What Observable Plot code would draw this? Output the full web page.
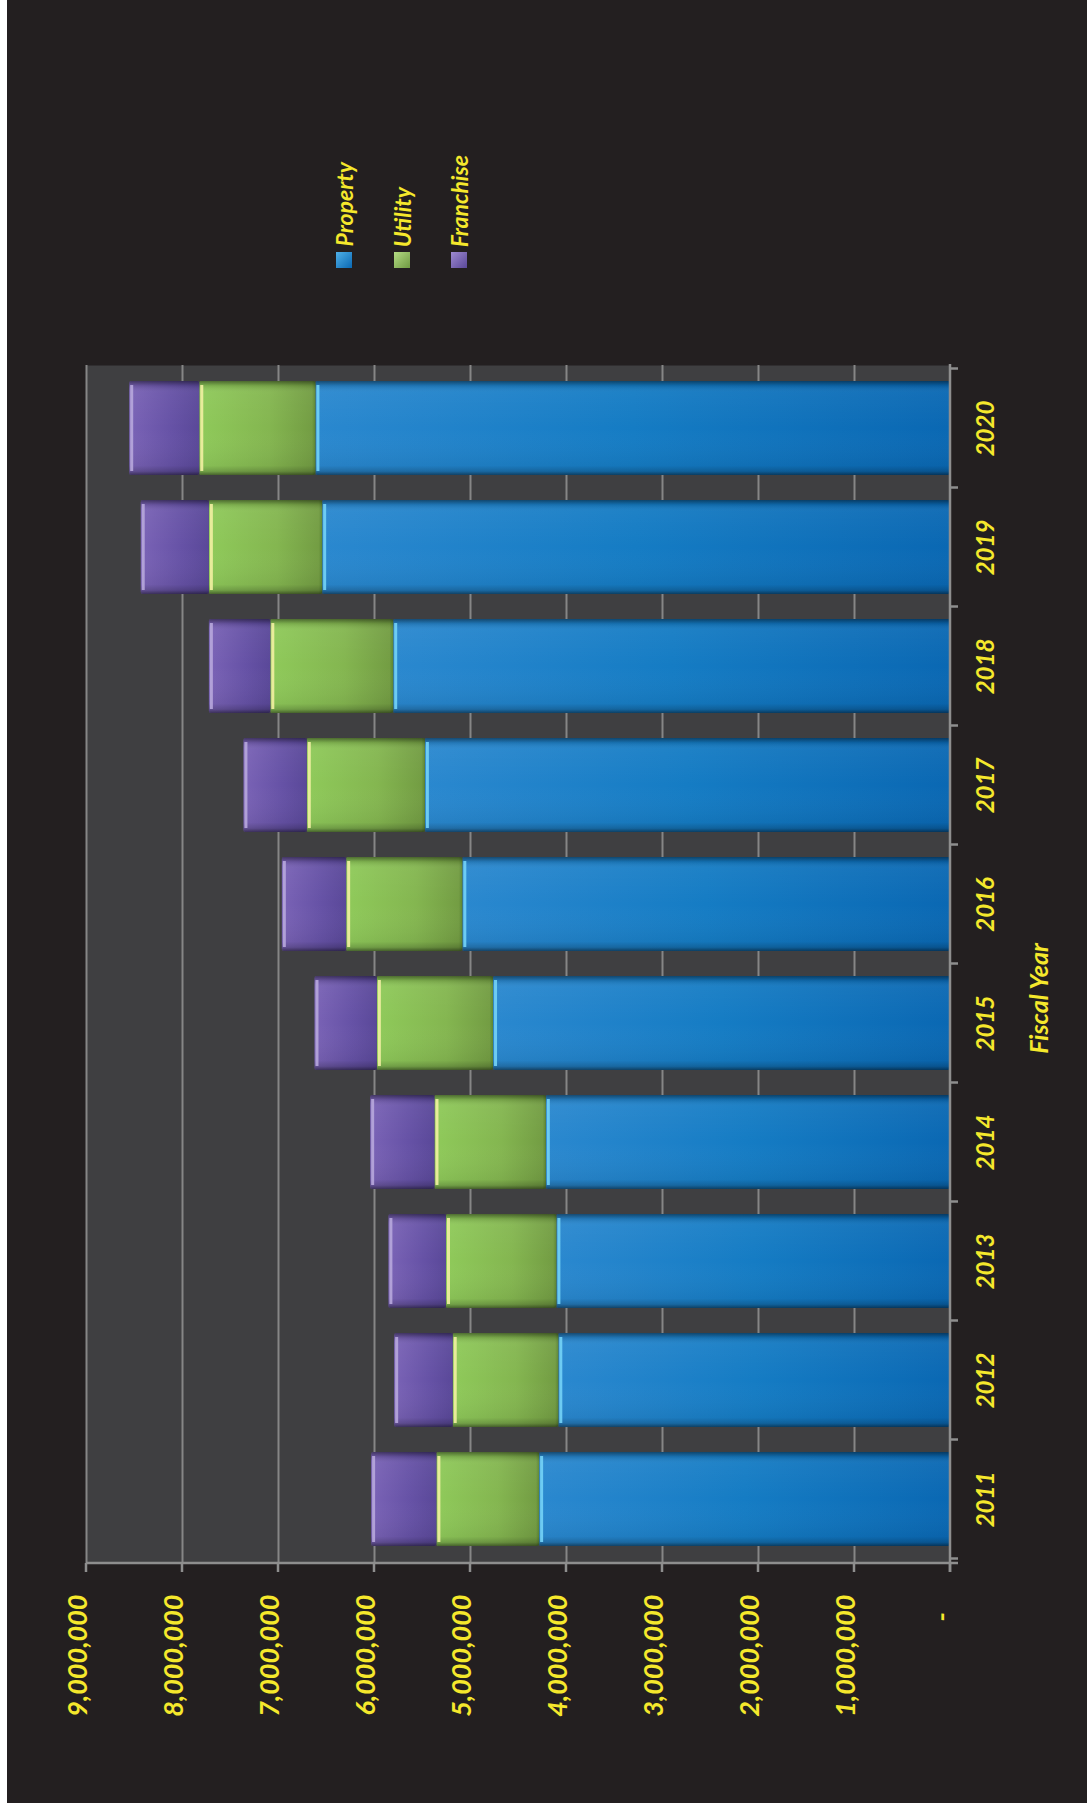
<!DOCTYPE html>
<html>
<head>
<meta charset="utf-8">
<script src="https://cdn.jsdelivr.net/npm/d3@7"></script>
<script src="https://cdn.jsdelivr.net/npm/@observablehq/plot@0.6"></script>
<style>
html, body { margin: 0; padding: 0; background: #231f20; }
#page { position: relative; width: 1087px; height: 1803px; overflow: hidden; background: #231f20; }
#strip { position: absolute; left: 0; top: 0; width: 7px; height: 1803px; background: #ffffff; z-index: 2; }
#chart { position: absolute; left: 0; top: 0; }
#legend { position: absolute; left: 329px; top: 110px; height: 158px; display: flex; align-items: flex-end; gap: 27.5px; z-index: 3; }
.item { width: 30px; display: flex; flex-direction: column; align-items: center; }
.item span { writing-mode: vertical-rl; transform: rotate(180deg); font: italic bold 23px Lato, "Open Sans", sans-serif; color: #f5e82c; line-height: 30px; white-space: nowrap; }
.sw { width: 16px; height: 16px; margin-top: 5px; }
g[aria-label="value labels"] text { letter-spacing: -1.1px; }
</style>
</head>
<body>
<div id="page">
  <div id="strip"></div>
  <div id="chart"></div>
  <div id="legend"></div>
</div>
<script>
// ---- data ----
const years = ["2011", "2012", "2013", "2014", "2015", "2016", "2017", "2018", "2019", "2020"];
const property  = [4280000, 4080000, 4100000, 4210000, 4760000, 5080000, 5470000, 5800000, 6540000, 6610000];
const utility   = [1070000, 1100000, 1150000, 1160000, 1210000, 1210000, 1230000, 1280000, 1180000, 1210000];
const franchise = [ 680000,  610000,  600000,  670000,  650000,  670000,  660000,  640000,  710000,  730000];
const seriesNames = ["Property", "Utility", "Franchise"];
const valueTicks = [0, 1000000, 2000000, 3000000, 4000000, 5000000, 6000000, 7000000, 8000000, 9000000];
const valueTickLabels = ["-\u00a0\u00a0\u00a0", "1,000,000", "2,000,000", "3,000,000", "4,000,000", "5,000,000", "6,000,000", "7,000,000", "8,000,000", "9,000,000"];
const axisTitle = "Fiscal Year";

// ---- styles ----
const yellow = "#f5e82c";
const seriesStyle = {
  Property:  {id: "gProperty",  stops: [[0, "#2a88cf"], [0.5, "#157cc4"], [1, "#0a68b3"]], hi: "#74d3f6", sw: "linear-gradient(135deg,#4fb0e8,#0a68b3)"},
  Utility:   {id: "gUtility",   stops: [[0, "#8fca5a"], [0.6, "#84b650"], [0.97, "#739d43"], [1, "#5c8533"]], hi: "#f2f0a2", sw: "linear-gradient(135deg,#b4dc84,#6f9a42)"},
  Franchise: {id: "gFranchise", stops: [[0, "#7a63b6"], [0.6, "#6652a6"], [1, "#5a4899"]], hi: "#b7a7dc", sw: "linear-gradient(135deg,#9e8ad0,#5a4899)"}
};

// stacked rows (cumulative sums of the series values)
const seriesValues = [property, utility, franchise];
const rows = [];
years.forEach((yr, i) => {
  let acc = 0;
  seriesValues.forEach((vals, s) => {
    rows.push({year: yr, series: seriesNames[s], x1: acc, x2: acc + vals[i]});
    acc += vals[i];
  });
});

// gradient definitions
const defs = () => {
  const g = d3.create("svg:g");
  const d = g.append("defs");
  const lin = (id, stops, vertical) => {
    const lg = d.append("linearGradient").attr("id", id)
      .attr("x1", 0).attr("y1", 0).attr("x2", vertical ? 0 : 1).attr("y2", vertical ? 1 : 0);
    stops.forEach(([o, c, op]) => lg.append("stop").attr("offset", o).attr("stop-color", c).attr("stop-opacity", op ?? 1));
  };
  for (const s of seriesNames) lin(seriesStyle[s].id, seriesStyle[s].stops, false);
  lin("vshade", [[0, "#000", 0.45], [0.05, "#000", 0.12], [0.12, "#fff", 0.04], [0.5, "#fff", 0], [0.9, "#000", 0.05], [0.96, "#000", 0.2], [1, "#000", 0.5]], true);
  return g.node();
};

// axis lines and tick stubs
const axes = (index, scales, values, dims) => {
  const {x, y} = scales;
  const {height, marginTop, marginBottom, marginLeft} = dims;
  const bottom = height - marginBottom, top = marginTop, left = marginLeft;
  const right = x(0);
  const bw = y.bandwidth();
  const step = Math.abs(y(years[1]) - y(years[0]));
  const gap = (step - bw) / 2;
  const edges = years.map(v => y(v) - gap).concat([y(years[0]) + bw + gap]);
  const g = d3.create("svg:g").attr("stroke", "#8e8e8e").attr("stroke-width", 2.5).attr("fill", "none");
  g.append("line").attr("x1", left).attr("x2", right + 8).attr("y1", bottom).attr("y2", bottom);
  g.append("line").attr("x1", right).attr("x2", right).attr("y1", top - 1).attr("y2", bottom + 9);
  for (const v of valueTicks) g.append("line").attr("x1", x(v)).attr("x2", x(v)).attr("y1", bottom).attr("y2", bottom + 9);
  for (const e of edges) g.append("line").attr("x1", right).attr("x2", right + 8).attr("y1", e).attr("y2", e);
  return g.node();
};

const barMarks = [];
for (const s of seriesNames) {
  const data = rows.filter(r => r.series === s);
  barMarks.push(Plot.barX(data, {x1: "x1", x2: "x2", y: "year", fill: "url(#" + seriesStyle[s].id + ")", rx: 2}));
  barMarks.push(Plot.barX(data, {x1: "x1", x2: "x2", y: "year", fill: "url(#vshade)", rx: 2}));
  barMarks.push(Plot.tickX(data, {x: "x2", y: "year", stroke: seriesStyle[s].hi, strokeWidth: 3, dx: 2, insetTop: 4, insetBottom: 4, strokeOpacity: 0.9}));
}

const textStyle = {fill: yellow, fontWeight: "bold", fontStyle: "italic", fontFamily: "Lato"};

const chart = Plot.plot({
  width: 1087,
  height: 1803,
  marginLeft: 86,
  marginRight: 137,
  marginTop: 365,
  marginBottom: 240,
  style: {background: "transparent", overflow: "visible"},
  x: {domain: [0, 9000000], reverse: true, axis: null},
  y: {domain: years.slice().reverse(), paddingInner: 0.21, paddingOuter: 0.105, axis: null},
  marks: [
    defs,
    Plot.frame({fill: "#3f3f41", stroke: null}),
    Plot.ruleX(valueTicks.slice(1), {x: d => d, stroke: "#868686", strokeWidth: 2}),
    ...barMarks,
    axes,
    Plot.text(valueTicks, {
      x: d => d, frameAnchor: "bottom", dy: 31, rotate: -90, textAnchor: "end",
      text: (d, i) => valueTickLabels[i], fontSize: 27, ariaLabel: "value labels", ...textStyle
    }),
    Plot.text(years, {
      y: d => d, frameAnchor: "right", dx: 36, rotate: -90, textAnchor: "middle",
      text: d => d, fontSize: 24, ...textStyle
    }),
    Plot.text([axisTitle], {
      frameAnchor: "right", dx: 89, dy: 34, rotate: -90, textAnchor: "middle",
      text: d => d, fontSize: 25, ...textStyle
    })
  ]
});
document.getElementById("chart").appendChild(chart);

// legend
const legend = d3.select("#legend");
for (const s of seriesNames) {
  const it = legend.append("div").attr("class", "item");
  it.append("span").text(s);
  it.append("div").attr("class", "sw").style("background", seriesStyle[s].sw);
}
</script>
</body>
</html>
